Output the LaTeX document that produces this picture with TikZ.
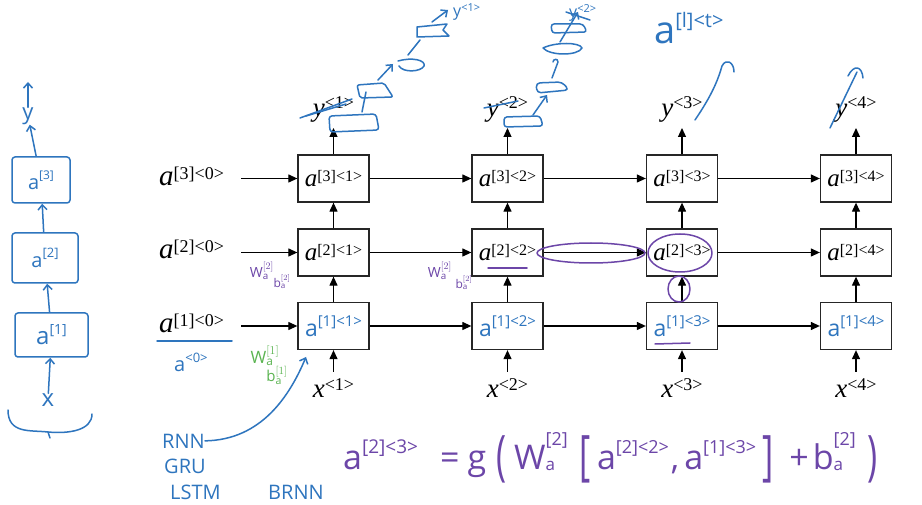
\documentclass[tikz,border=0pt]{standalone}
\usepackage{fontspec}
\usepackage{graphicx}
\setsansfont{Open Sans}
\newfontfamily\pf{Liberation Serif}
\usetikzlibrary{arrows.meta}
\definecolor{hblue}{RGB}{46,117,190}
\definecolor{hpurple}{RGB}{108,70,168}
\definecolor{hgreen}{RGB}{90,180,80}
\newcommand\hsup[3]{\raisebox{#1}{\fontsize{#2}{#2}\selectfont #3}}
% printed label: main size, sup size, letter, raise, sup text
\newcommand\PL[5]{{\pf\fontsize{#1}{#1}\selectfont\itshape #3\upshape\raisebox{#4}{\fontsize{#2}{#2}\selectfont #5}}}
% handwritten stacked sup/sub
\newcommand\Hst[4]{\makebox[0pt][l]{\raisebox{#3}{\fontsize{17}{17}\selectfont #2}}\raisebox{#4}{\fontsize{18}{18}\selectfont #1}}
\newcommand\Hbig[1]{\raisebox{-5pt}{\scalebox{1}[1.6]{#1}}}
\begin{document}
\begin{tikzpicture}[x=1pt,y=-1pt,
  cell/.style={draw=black!85, line width=1.3pt, minimum width=71pt, minimum height=47pt, inner sep=0pt},
  arr/.style={line width=1.2pt, -{Triangle[length=9pt,width=8pt]}},
  lbl/.style={inner sep=0pt},
  hand/.style={hblue, line width=1.5pt, line cap=round, line join=round},
  hp/.style={hpurple, line width=1.5pt, line cap=round, line join=round},
  harr/.style={hand, -{Straight Barb[length=5pt,width=9pt]}},
  htxt/.style={hblue, inner sep=0pt, font=\sffamily\fontsize{20}{24}\selectfont},
  hbox/.style={hand, draw, rounded corners=3pt, inner sep=0pt, font=\sffamily\fontsize{20}{24}\selectfont}
]
\useasboundingbox (0,0) rectangle (922,505);
\fill[white] (0,0) rectangle (922,505);

% ---------- printed grid ----------
\node[cell] (c31) at (333.5,178.5) {\PL{25}{16}{a}{5pt}{[3]<1>}};
\node[cell] (c32) at (507.5,178.5) {\PL{25}{16}{a}{5pt}{[3]<2>}};
\node[cell] (c33) at (682,178.5) {\PL{25}{16}{a}{5pt}{[3]<3>}};
\node[cell] (c34) at (856,178.5) {\PL{25}{16}{a}{5pt}{[3]<4>}};
\node[cell] (c21) at (333.5,252.5) {\PL{25}{16}{a}{5pt}{[2]<1>}};
\node[cell] (c22) at (507.5,252.5) {\PL{25}{16}{a}{5pt}{[2]<2>}};
\node[cell] (c23) at (682,252.5) {\PL{25}{16}{a}{5pt}{[2]<3>}};
\node[cell] (c24) at (856,252.5) {\PL{25}{16}{a}{5pt}{[2]<4>}};
\node[cell, font=\sffamily\fontsize{23}{23}\selectfont] (c11) at (333.5,326) {\color{hblue}a\hsup{10pt}{15pt}{[1]<1>}};
\node[cell, font=\sffamily\fontsize{23}{23}\selectfont] (c12) at (507.5,326) {\color{hblue}a\hsup{10pt}{15pt}{[1]<2>}};
\node[cell, font=\sffamily\fontsize{23}{23}\selectfont] (c13) at (682,326) {\color{hblue}a\hsup{10pt}{15pt}{[1]<3>}};
\node[cell, font=\sffamily\fontsize{23}{23}\selectfont] (c14) at (856,326) {\color{hblue}a\hsup{10pt}{15pt}{[1]<4>}};

% left initial activations
\node[lbl, anchor=base west] (l3) at (159,186) {\PL{29}{18}{a}{6pt}{[3]<0>}};
\node[lbl, anchor=base west] (l2) at (159,259) {\PL{29}{18}{a}{6pt}{[2]<0>}};
\node[lbl, anchor=base west] (l1) at (159,333) {\PL{29}{18}{a}{6pt}{[1]<0>}};
\coordinate (s3) at (241,178.5);
\coordinate (s2) at (241,252.5);
\coordinate (s1) at (241,326);
\draw[arr] (s3) -- (c31.west);
\draw[arr] (s2) -- (c21.west);
\draw[arr] (s1) -- (c11.west);

% horizontal
\foreach \r in {1,2,3}{
  \draw[arr] (c\r1.east) -- (c\r2.west);
  \draw[arr] (c\r2.east) -- (c\r3.west);
  \draw[arr] (c\r3.east) -- (c\r4.west);
}
% vertical
\foreach \c in {1,2,3,4}{
  \draw[arr] (c1\c.north) -- (c2\c.south);
  \draw[arr] (c2\c.north) -- (c3\c.south);
}
% inputs and outputs
\foreach \c/\X in {1/333.5,2/507.5,3/682,4/856}{
  \coordinate (i\c) at (\X,372);
  \coordinate (o\c) at (\X,128);
  \draw[arr] (i\c) -- (c1\c.south);
  \draw[arr] (c3\c.north) -- (o\c);
  \node[lbl, anchor=base] (x\c) at (\X,398) {\PL{27}{18}{x}{8pt}{<\c>}};
  \node[lbl, anchor=base] (y\c) at (\X,117) {\PL{27}{18}{y}{8pt}{<\c>}};
}

% ---------- handwritten: left stack ----------
\node[hbox, minimum width=58pt, minimum height=46pt] (hb3) at (41,180) {a\hsup{10pt}{12pt}{[3]}};
\node[hbox, minimum width=66pt, minimum height=50pt] (hb2) at (45,258) {a\hsup{10pt}{13pt}{[2]}};
\node[hbox, minimum width=73pt, minimum height=44pt] (hb1) at (51.5,335) {\fontsize{24}{24}\selectfont a\hsup{10pt}{14pt}{[1]}};
\node[htxt, font=\sffamily\fontsize{24}{24}\selectfont] (hx) at (48,400) {x};
\node[htxt, font=\sffamily\fontsize{22}{24}\selectfont] (hy) at (28,116) {y};
\coordinate (htop) at (28,82);
\draw[harr] (hx) -- (hb1);
\draw[harr] (hb1) -- (hb2);
\draw[harr] (hb2) -- (hb3);
\draw[harr] (hb3) -- (hy);
\draw[harr] (hy) -- (htop);
\draw[hand] (8,410) .. controls (8,434) and (30,430) .. (48,432)
            .. controls (70,434) and (92,430) .. (92,414);
\draw[hand] (48,432) -- (50,438);

% ---------- handwritten: around the grid ----------
\draw[hand] (157,341) -- (232,341);
\node[htxt, anchor=base west] (a0) at (174,371) {a\hsup{9pt}{13pt}{<0>}};
\node[hgreen, inner sep=0pt, font=\fontsize{17}{20}\selectfont] (gw) at (265,356) {$\mathsf{W}_{\mathsf{a}}^{[1]}$};
\node[hgreen, inner sep=0pt, font=\fontsize{15}{18}\selectfont] (gb) at (277,375) {$\mathsf{b}_{\mathsf{a}}^{[1]}$};
\node[hpurple, inner sep=0pt, font=\fontsize{14}{16}\selectfont] (pw1) at (262,271) {$\mathsf{W}_{\mathsf{a}}^{[2]}$};
\node[hpurple, inner sep=0pt, font=\fontsize{12}{14}\selectfont] (pb1) at (282,282) {$\mathsf{b}_{\mathsf{a}}^{[2]}$};
\node[hpurple, inner sep=0pt, font=\fontsize{14}{16}\selectfont] (pw2) at (440,271) {$\mathsf{W}_{\mathsf{a}}^{[2]}$};
\node[hpurple, inner sep=0pt, font=\fontsize{12}{14}\selectfont] (pb2) at (464,283) {$\mathsf{b}_{\mathsf{a}}^{[2]}$};

\node[htxt, anchor=base west] (rnn) at (162,448) {RNN};
\node[htxt, anchor=base west] (gru) at (164,473) {GRU};
\node[htxt, anchor=base west] (lstm) at (170,499) {LSTM};
\node[htxt, anchor=base west] (brnn) at (268,499) {BRNN};
\coordinate (hk) at (306,357);
\draw[harr] (rnn.east) .. controls (262,440) and (290,395) .. (hk);

% purple marks
\draw[hp] (591,253) ellipse (54pt and 10pt);
\draw[hp] (680,253) ellipse (32pt and 19pt);
\draw[hp] (679,289) ellipse (11pt and 13pt);
\draw[hp] (488,268) -- (527,268);
\draw[hp] (655,344) -- (690,343);

% formula
\node[hpurple, inner sep=0pt, font=\sffamily\fontsize{34}{40}\selectfont, anchor=base west] (eq) at (343,469)
  {a\hsup{16pt}{19pt}{[2]<3>}\hspace{22pt}=\hspace{8pt}g\hspace{10pt}\Hbig{(}\hspace{8pt}W\Hst{[2]}{a}{-1pt}{24pt}\hspace{12pt}\Hbig{[}\hspace{6pt}a\hsup{16pt}{18pt}{[2]<2>}\hspace{2pt},\hspace{5pt}a\hsup{16pt}{18pt}{[1]<3>}\hspace{6pt}\Hbig{]}\hspace{16pt}+\hspace{4pt}b\Hst{[2]}{a}{-1pt}{24pt}\hspace{12pt}\Hbig{)}};

% top: a^[l]<t>
\node[htxt, anchor=base west, font=\sffamily\fontsize{38}{40}\selectfont] (alt) at (654,44) {a\hsup{16pt}{20pt}{[l]<t>}};
\draw[hand] (695,120) .. controls (712,95) and (718,80) .. (722,66)
            .. controls (726,58) and (734,62) .. (734,72);
\draw[hand] (830,128) -- (857,72);
\draw[hand] (848,76) .. controls (854,64) and (862,66) .. (863,78);

% top chain 1
\draw[hand] (300,118) -- (352,99);
\draw[hand] (306,116) -- (346,104);
\draw[hand, rounded corners=3pt] (329,116) -- (376,114) -- (379,130) -- (330,132) -- cycle;
\draw[hand] (362,112) -- (366,92);
\draw[hand, rounded corners=2pt] (357,85) -- (384,83) -- (393,97) -- (360,98) -- cycle;
\draw[harr] (378,80) -- (393,64);
\draw[hand] (398,61) .. controls (412,57) and (426,60) .. (424,66) .. controls (421,72) and (403,73) .. (399,66);
\draw[hand] (408,55) -- (420,40);
\draw[hand] (417,27) -- (447,24) -- (443,30) -- (449,36) -- (417,37) -- cycle;
\draw[harr] (432,22) -- (448,10);
\node[htxt, anchor=base west, font=\sffamily\fontsize{16}{18}\selectfont] (ytop1) at (453,17) {y\hsup{5pt}{11pt}{<1>}};

% top chain 2
\draw[hand] (484,108) -- (518,101);
\draw[hand, rounded corners=3pt] (504,117) -- (540,116) -- (543,126) -- (504,127) -- cycle;
\draw[harr] (533,115) -- (547,95);
\draw[hand, rounded corners=4pt] (536,83) -- (562,82) -- (569,90) -- (537,93) -- cycle;
\draw[hand] (552,78) -- (558,62) .. controls (558,58) and (553,59) .. (553,62);
\draw[hand] (543,48) .. controls (555,42) and (580,42) .. (582,48) .. controls (578,56) and (550,56) .. (543,48);
\draw[harr] (560,42) -- (578,12);
\draw[hand, rounded corners=3pt] (551,24) -- (583,24) -- (587,32) -- (552,33) -- cycle;
\node[htxt, anchor=base west, font=\sffamily\fontsize{16}{18}\selectfont] (ytop2) at (569,18) {y\hsup{5pt}{11pt}{<2>}};
\draw[hand] (566,12) -- (590,20);
\end{tikzpicture}
\end{document}
